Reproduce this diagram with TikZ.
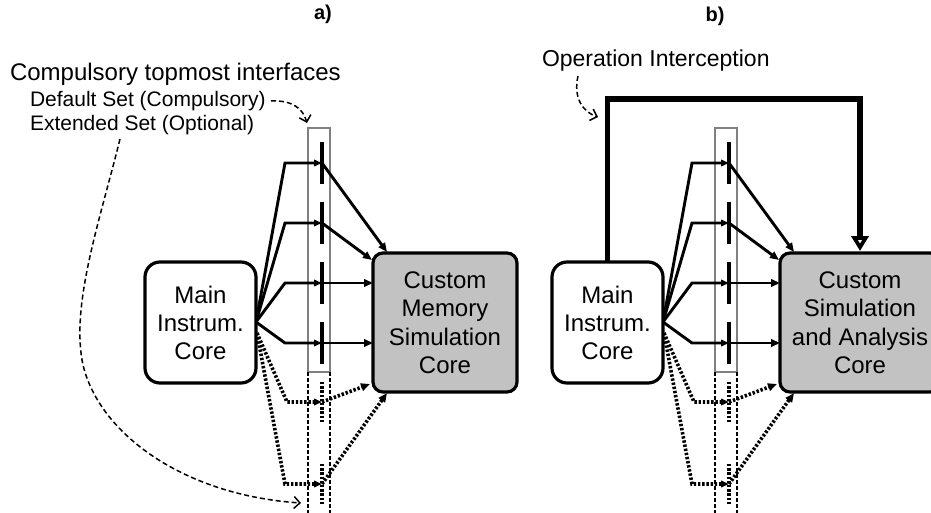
\documentclass[tikz,border=0pt]{standalone}
\usepackage{fontspec}
\setmainfont{Liberation Sans}
\usetikzlibrary{arrows.meta}

% Interface wiring between the instrumentation core and a simulation core.
% #1 = name prefix; drawn in local coordinates of panel a).
\newcommand\ifwiring[1]{%
  % interface column: solid part (default set) and dashed part (extended set)
  \draw[colbox] (308,128) rectangle (330,372);
  \draw[colext] (308,372) -- (308,516) (330,372) -- (330,516);
  \foreach \yy in {163,223,283,343} \draw[ibar] (322,\yy-21) -- (322,\yy+21);
  \foreach \yy in {402,484} \draw[obar] (322,\yy-20) -- (322,\yy+20);
  % fan-out points and interface points
  \coordinate (#1src) at (256,322);
  \coordinate (#1srd) at (257,333);
  \coordinate (#1k1) at (285,163); \coordinate (#1i1) at (322,163);
  \coordinate (#1k2) at (285,223); \coordinate (#1i2) at (322,223);
  \coordinate (#1k3) at (285,283); \coordinate (#1i3) at (322,283);
  \coordinate (#1k4) at (285,343); \coordinate (#1i4) at (322,343);
  \coordinate (#1k5) at (287,402); \coordinate (#1i5) at (322,402);
  \coordinate (#1k6) at (285,484); \coordinate (#1i6) at (322,484);
  % entry points on the simulation core
  \coordinate (#1e1) at (387,252);
  \coordinate (#1e2) at (372,260);
  \coordinate (#1e3) at (373,283);
  \coordinate (#1e4) at (373,343);
  \coordinate (#1e5) at (370,384);
  \coordinate (#1e6) at (387,393);
  % default set
  \foreach \k in {1,2,3,4} {
    \draw[sin] (#1src) -- (#1k\k) -- (#1i\k);
    \draw[sout] (#1i\k) -- (#1e\k);
  }
  % extended set
  \foreach \k in {5,6} {
    \draw[din] (#1srd) -- (#1k\k) -- (#1i\k);
    \draw[dout] (#1i\k) -- (#1e\k);
  }
}

\begin{document}
\begin{tikzpicture}[x=1pt,y=-1pt,
  every node/.style={inner sep=0pt, outer sep=0pt},
  colbox/.style={draw=black!50, line width=1.1pt},
  colext/.style={draw=black, line width=1.1pt, dash pattern=on 3.5pt off 2.5pt},
  ibar/.style={line width=3.4pt},
  obar/.style={line width=3.6pt, dash pattern=on 2.4pt off 1.8pt},
  sin/.style={line width=2.9pt, line join=miter, -{Triangle[length=8pt,width=6.5pt]}},
  sout/.style={line width=2.9pt, -{Triangle[length=9pt,width=7.5pt]}},
  din/.style={line width=3.6pt, dash pattern=on 2.4pt off 1.8pt, -{Triangle[length=8pt,width=6.5pt]}},
  dout/.style={line width=3.6pt, dash pattern=on 2.4pt off 1.8pt, -{Triangle[length=9pt,width=7.5pt]}},
  mainbox/.style={draw, line width=3.2pt, rounded corners=15pt, fill=white,
    align=center, font=\fontsize{24}{28}\selectfont},
  simbox/.style={draw, line width=3.2pt, rounded corners=10pt, fill=black!24,
    align=center, font=\fontsize{24}{28.5}\selectfont},
  note/.style={line width=1.5pt, dash pattern=on 5pt off 3pt, -{Straight Barb[length=6pt,width=12pt]}},
  title/.style={font=\fontsize{20}{22}\bfseries\selectfont},
  big/.style={font=\fontsize{24}{28}\selectfont, anchor=base west},
  small/.style={font=\fontsize{21}{25}\selectfont, anchor=base west},
  intercept/.style={line width=5.5pt, line join=miter, -{Triangle[open, length=15pt, width=17pt, line width=5pt]}}
]
\useasboundingbox (0,0) rectangle (931,513);
\fill[white] (0,0) rectangle (931,513);

% ---------------- panel a) ----------------
\node[title] (ta) at (323,14) {a)};
\node[big] (tcomp) at (10,81) {Compulsory topmost interfaces};
\node[small] (tdef) at (30,107) {Default Set (Compulsory)};
\node[small] (text) at (30,131) {Extended Set (Optional)};

\ifwiring{a}
\node[mainbox, minimum width=111pt, minimum height=121pt] (amain) at (200.5,322.5)
  {Main\\Instrum.\\Core};
\node[simbox, minimum width=144pt, minimum height=139pt] (asim) at (445,322.5)
  {Custom\\Memory\\Simulation\\Core};

\coordinate (defa) at (271,101);
\coordinate (defb) at (307,123);
\draw[note] (defa) .. controls (293,100) and (303,109) .. (defb);
\coordinate (exta) at (120,139);
\coordinate (extm) at (82,360);
\coordinate (extb) at (301,503);
\draw[note] (exta) .. controls (100,220) and (72,300) .. (extm)
  .. controls (95,430) and (180,495) .. (extb);

% ---------------- panel b) ----------------
\node[title] (tb) at (715,16) {b)};
\node[small, font=\fontsize{23}{27}\selectfont] (top) at (542,67) {Operation Interception};

\begin{scope}[xshift=407pt]
  \ifwiring{b}
\end{scope}
\node[mainbox, minimum width=111pt, minimum height=121pt] (bmain) at (607.5,322.5)
  {Main\\Instrum.\\Core};
\node[simbox, minimum width=160pt, minimum height=139pt, anchor=west] (bsim) at (780,322.5)
  {Custom\\Simulation\\and Analysis\\Core};

\coordinate (opl) at (607.5,99);
\coordinate (opr) at (860,99);
\coordinate (opin) at (860,251);
\draw[intercept] (bmain.north) -- (opl) -- (opr) -- (opin);

\coordinate (ona) at (578,76);
\coordinate (onb) at (598,117);
\draw[note] (ona) .. controls (573,98) and (583,112) .. (onb);
\end{tikzpicture}
\end{document}
